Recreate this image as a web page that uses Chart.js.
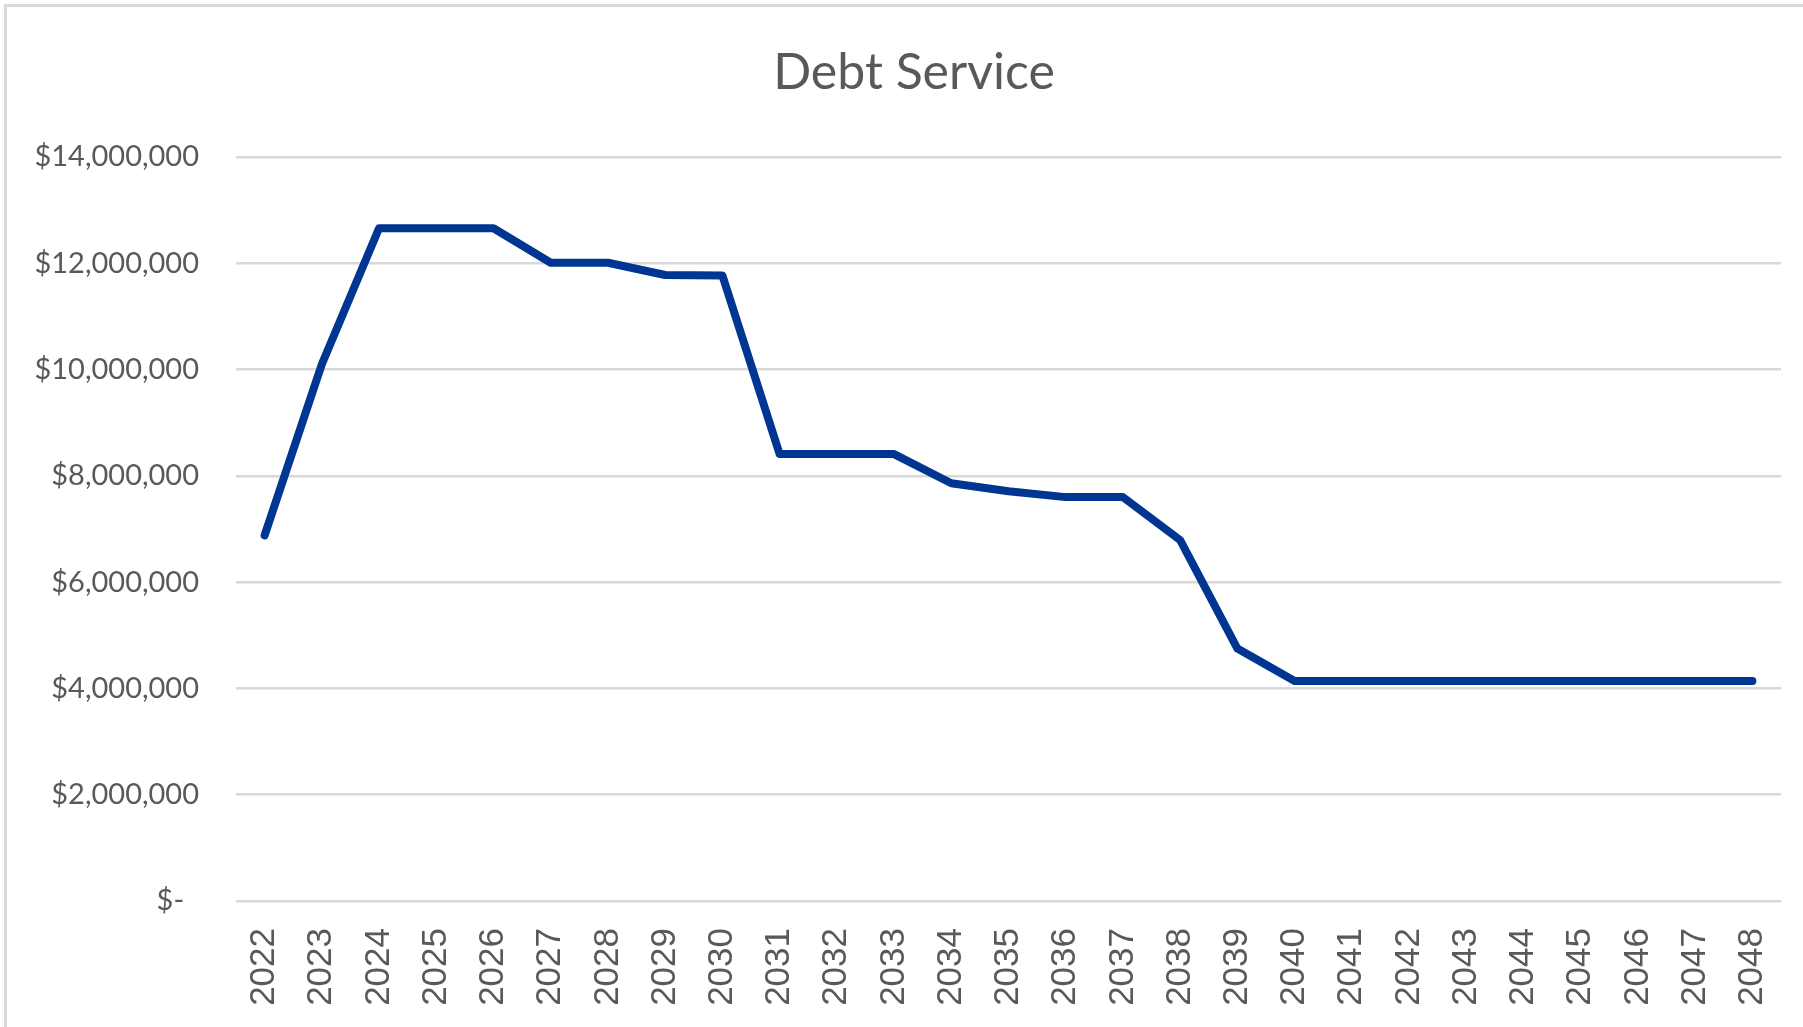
<!DOCTYPE html>
<html>
<head>
<meta charset="utf-8">
<script src="https://cdn.jsdelivr.net/npm/chart.js@4.4.1/dist/chart.umd.min.js"></script>
<style>
  html, body { margin: 0; padding: 0; background: #ffffff; }
  #wrap { position: relative; width: 1803px; height: 1027px; overflow: hidden; }
  canvas { display: block; }
</style>
</head>
<body>
<div id="wrap"><canvas id="c" width="1803" height="1027"></canvas></div>
<script>
// ---- data ----
const chartTitle = 'Debt Service';
const years = ['2022','2023','2024','2025','2026','2027','2028','2029','2030','2031','2032','2033','2034','2035','2036','2037','2038','2039','2040','2041','2042','2043','2044','2045','2046','2047','2048'];
const debtService = [6880000, 10100000, 12660000, 12660000, 12660000, 12010000, 12010000, 11780000, 11770000, 8410000, 8410000, 8410000, 7860000, 7710000, 7600000, 7600000, 6790000, 4750000, 4140000, 4140000, 4140000, 4140000, 4140000, 4140000, 4140000, 4140000, 4140000];
const yMin = 0;
const yMax = 14000000;
const yStep = 2000000;

// ---- styling ----
const textGrey = '#595959';
const gridGrey = '#d9d9d9';
const lineBlue = '#003591';

const frame = {
  id: 'frame',
  beforeDraw(chart) {
    const ctx = chart.ctx;
    ctx.save();
    ctx.fillStyle = '#ffffff';
    ctx.fillRect(0, 0, chart.width, chart.height);
    ctx.strokeStyle = gridGrey;
    ctx.lineWidth = 3;
    ctx.strokeRect(5.5, 5.5, chart.width + 20, chart.height + 20);
    ctx.restore();
  }
};

function moneyLabel(v) {
  if (v === 0) return '$-  ';
  return '$' + Math.round(v).toLocaleString('en-US');
}

new Chart(document.getElementById('c'), {
  type: 'line',
  data: {
    labels: years,
    datasets: [{
      label: chartTitle,
      data: debtService,
      borderColor: lineBlue,
      backgroundColor: lineBlue,
      borderWidth: 8,
      borderCapStyle: 'round',
      borderJoinStyle: 'round',
      pointRadius: 0,
      pointHoverRadius: 0,
      tension: 0,
      fill: false
    }]
  },
  options: {
    responsive: false,
    animation: false,
    events: [],
    layout: { padding: { left: 29, right: 4, top: 0, bottom: 0 } },
    plugins: {
      legend: { display: false },
      tooltip: { enabled: false },
      title: {
        display: true,
        text: chartTitle,
        color: textGrey,
        font: { family: 'Lato', size: 50, weight: 'normal', lineHeight: 1.2 },
        padding: { top: 43, bottom: 54 }
      }
    },
    scales: {
      x: {
        offset: true,
        grid: { display: false, drawTicks: false },
        border: { display: false },
        ticks: {
          autoSkip: false,
          minRotation: 90,
          maxRotation: 90,
          padding: 27,
          color: textGrey,
          font: { family: 'Liberation Sans', size: 35 }
        },
        afterFit(scale) {
          scale.height = 126;
          scale.paddingLeft = 0;
          scale.paddingRight = 22;
        }
      },
      y: {
        min: yMin,
        max: yMax,
        grid: { color: gridGrey, lineWidth: 2.5, drawTicks: false },
        border: { display: false },
        ticks: {
          stepSize: yStep,
          padding: 37,
          color: textGrey,
          font: { family: 'Lato', size: 29 },
          callback: (v) => moneyLabel(v)
        },
        afterFit(scale) { scale.width = 207; }
      }
    }
  },
  plugins: [frame]
});
</script>
</body>
</html>
